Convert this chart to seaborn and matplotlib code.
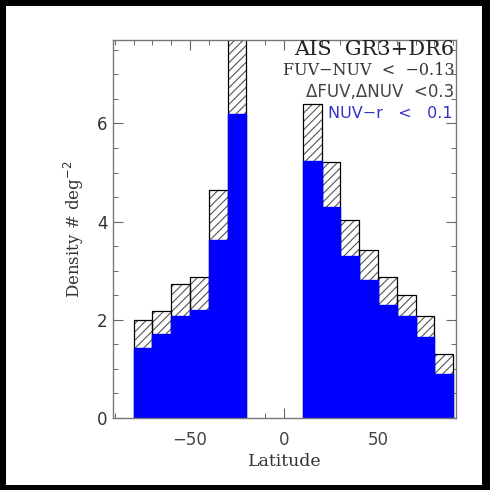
import numpy as np
import pandas as pd
import matplotlib
matplotlib.use("Agg")
import matplotlib.pyplot as plt
from matplotlib.patches import Rectangle
from matplotlib.ticker import MultipleLocator
import seaborn as sns

# ---- data ----
south_edges = [-80, -70, -60, -50, -40, -30, -20]
south_total = [2.00, 2.18, 2.73, 2.87, 4.65, 8.00]
south_blue = [1.42, 1.71, 2.08, 2.20, 3.62, 6.20]

north_edges = [10, 20, 30, 40, 50, 60, 70, 80, 90]
north_total = [6.39, 5.22, 4.03, 3.43, 2.88, 2.50, 2.08, 1.30]
north_blue = [5.23, 4.29, 3.29, 2.82, 2.31, 2.07, 1.65, 0.90]

xticks = [-50, 0, 50]
yticks = [0, 2, 4, 6]
title_lines = ["AIS  GR3+DR6", "FUV\u2212NUV  <  \u22120.13", "\u0394FUV,\u0394NUV  <0.3", "NUV\u2212r   <   0.1"]

sns.set_theme(style="white")
plt.rcParams["hatch.linewidth"] = 0.8

fig = plt.figure(figsize=(4.9, 4.9), dpi=100)
fig.patch.set_facecolor("black")
fig.add_artist(Rectangle((6 / 490, 5 / 490), 476 / 490, 479 / 490,
                         transform=fig.transFigure, facecolor="white",
                         edgecolor="none", zorder=0))
ax = fig.add_axes([113 / 490, 72 / 490, 343 / 490, 378 / 490])
ax.set_facecolor("white")

for edges, total, blue in [(south_edges, south_total, south_blue),
                           (north_edges, north_total, north_blue)]:
    e = [float(v) for v in edges]
    centers = [(a + b) / 2 for a, b in zip(e[:-1], e[1:])]
    df = pd.DataFrame({"lat": centers, "total": total, "blue": blue})
    # hatched fill of total
    sns.histplot(data=df, x="lat", weights="total", bins=e, ax=ax,
                 element="bars", fill=True, color="white", alpha=1,
                 hatch="////", edgecolor="#555555", linewidth=0, zorder=1)
    # black outline of total
    sns.histplot(data=df, x="lat", weights="total", bins=e, ax=ax,
                 element="bars", fill=False, color="black", alpha=1,
                 linewidth=0.9, zorder=2)
    # blue subset (blue edge hides the outline below)
    sns.histplot(data=df, x="lat", weights="blue", bins=e, ax=ax,
                 element="bars", fill=True, color="#0000ff", alpha=1,
                 edgecolor="#0000ff", linewidth=1.0, zorder=3)

ax.set_xlim(-91, 91.5)
ax.set_ylim(0, 7.7)
ax.set_xticks(xticks)
ax.set_yticks(yticks)
ax.xaxis.set_minor_locator(MultipleLocator(10))
ax.yaxis.set_minor_locator(MultipleLocator(0.5))
ax.tick_params(which="both", direction="in", top=True, right=True,
               bottom=True, left=True, color="#666666")
ax.tick_params(which="major", length=7, width=0.8)
ax.tick_params(which="minor", length=3.5, width=0.7)
ax.tick_params(axis="x", labelsize=12, labelcolor="#444444", pad=9)
ax.tick_params(axis="y", labelsize=12, labelcolor="#333333", pad=4)
ax.set_xticklabels(["\u221250", "0", "50"])
for lab in ax.get_xticklabels():
    lab.set_fontfamily("DejaVu Sans")
for lab in ax.get_yticklabels():
    lab.set_fontfamily("DejaVu Sans")

for sp in ax.spines.values():
    sp.set_color("#777777")
    sp.set_linewidth(1.0)
    sp.set_zorder(5)

ax.set_xlabel("Latitude", fontsize=12.5, family="DejaVu Serif", color="#333333",
              labelpad=3)
ax.set_ylabel("Density # deg$^{-2}$", fontsize=12, family="DejaVu Serif",
              color="#333333", labelpad=8)

tr = ax.transAxes
ax.text(0.995, 1.0, title_lines[0], transform=tr, ha="right", va="top",
        fontsize=15, family="DejaVu Serif", color="#222222", zorder=6)
ax.text(0.997, 0.942, title_lines[1], transform=tr, ha="right", va="top",
        fontsize=11.5, family="DejaVu Serif", color="#333333", zorder=6)
ax.text(0.995, 0.886, title_lines[2], transform=tr, ha="right", va="top",
        fontsize=12, family="DejaVu Sans", color="#444444", zorder=6)
ax.text(0.99, 0.826, title_lines[3], transform=tr, ha="right", va="top",
        fontsize=11.5, family="DejaVu Sans", color="#3333cc", zorder=6)

fig.savefig("out.png", dpi=100, facecolor=fig.get_facecolor())
